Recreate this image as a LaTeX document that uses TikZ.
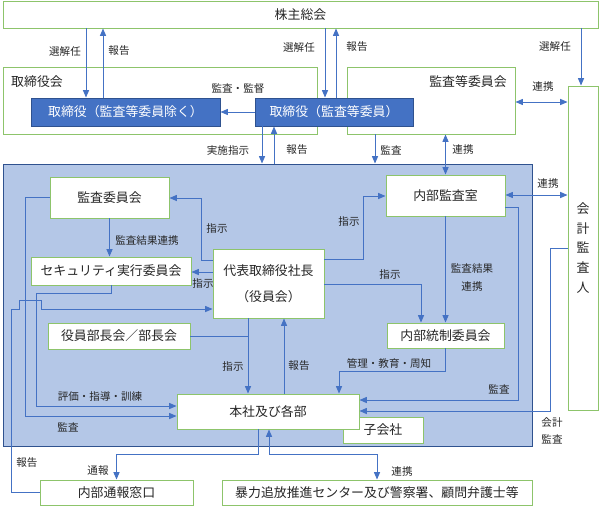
\documentclass[tikz,border=0pt]{standalone}
\usepackage{fontspec}
\setmainfont{Noto Sans CJK JP}
\usepackage{tikz}
\usetikzlibrary{arrows.meta}
\definecolor{lineblue}{HTML}{4472C4}
\definecolor{darkblue}{HTML}{2F528F}
\definecolor{areablue}{HTML}{B4C7E7}
\definecolor{boxgreen}{HTML}{8DC46B}
\definecolor{txt}{HTML}{262626}

\begin{document}
\begin{tikzpicture}[x=0.03cm,y=-0.03cm]

      \tikzstyle{greenbox}=[draw=boxgreen,line width=0.8pt,fill=white,inner sep=0pt,text=txt,font=\fontsize{11pt}{13pt}\selectfont]
      \tikzstyle{bluebox}=[draw=darkblue,line width=0.8pt,fill=lineblue,inner sep=0pt,text=white,font=\fontsize{11pt}{13pt}\selectfont]
      \tikzstyle{lbl}=[inner sep=0pt,text=txt,font=\fontsize{9pt}{11pt}\selectfont]
      \tikzstyle{arr}=[draw=lineblue,line width=0.8pt,-{Triangle[length=2.2mm,width=1.8mm]}]
      \tikzstyle{dbl}=[draw=lineblue,line width=0.8pt,{Triangle[length=2.2mm,width=1.8mm]}-{Triangle[length=2.2mm,width=1.8mm]}]
      \tikzstyle{ln}=[draw=lineblue,line width=0.8pt]

  \useasboundingbox (0,0) rectangle (600,506);

  \node[greenbox, minimum width=17.85cm, minimum height=0.81cm] (kabu) at (300.5,14.5) {株主総会};
  \node[greenbox, minimum width=9.42cm, minimum height=2.01cm] (torikai) at (160,100.5) {};
  \node[greenbox, minimum width=5.04cm, minimum height=2.01cm] (kansatou) at (431,100.5) {};
  \node[greenbox, minimum width=0.9cm, minimum height=9.72cm, align=center, font=\fontsize{11pt}{17pt}\selectfont] (kaikei) at (583,248) {会\\計\\監\\査\\人};
  \node[draw=darkblue, line width=0.8pt, fill=areablue, minimum width=15.87cm, minimum height=8.46cm] (area) at (267.5,305) {};

  \node[greenbox, draw=none, fill=none] (torikailbl) at (37,82) {取締役会};
  \node[greenbox, draw=none, fill=none] (kansatoulbl) at (468,82) {監査等委員会};
  \node[bluebox, minimum width=5.67cm, minimum height=0.84cm] (torishimari1) at (125.5,112) {取締役（監査等委員除く）};
  \node[bluebox, minimum width=4.74cm, minimum height=0.84cm] (torishimari2) at (334,112) {取締役（監査等委員）};

  \node[greenbox, minimum width=3.57cm, minimum height=1.23cm] (naibu) at (445.5,195.5) {内部監査室};
  \node[greenbox, minimum width=3.57cm, minimum height=1.23cm] (kansaiin) at (109.5,197.5) {監査委員会};
  \node[greenbox, minimum width=4.8cm, minimum height=0.84cm] (security) at (111,271) {セキュリティ実行委員会};
  \node[greenbox, minimum width=3.33cm, minimum height=2.07cm, align=center, font=\fontsize{11pt}{22pt}\selectfont] (daihyo) at (268.5,283.5) {代表取締役社長\\（役員会）};
  \node[greenbox, minimum width=3.51cm, minimum height=0.75cm] (tousei) at (445.5,335.5) {内部統制委員会};
  \node[greenbox, minimum width=4.26cm, minimum height=0.78cm] (buchou) at (119,336) {役員部長会／部長会};
  \node[greenbox, minimum width=2.4cm, minimum height=0.78cm] (kogaisha) at (383,430) {子会社};
  \node[greenbox, minimum width=5.46cm, minimum height=1.05cm] (honsha) at (268,411.5) {本社及び各部};
  \node[greenbox, minimum width=4.59cm, minimum height=0.75cm] (tsuhou) at (116.5,492.5) {内部通報窓口};
  \node[greenbox, minimum width=9.3cm, minimum height=0.75cm] (boryoku) at (377,492.5) {暴力追放推進センター及び警察署、顧問弁護士等};

  % top
  \draw[arr] (kabu.south -| 86,0) -- (torishimari1.north -| 86,0);
  \draw[arr] (torishimari1.north -| 103,0) -- (kabu.south -| 103,0);
  \draw[arr] (kabu.south -| 325,0) -- (torishimari2.north -| 325,0);
  \draw[arr] (torishimari2.north -| 336,0) -- (kabu.south -| 336,0);
  \draw[arr] (kabu.south -| 581,0) -- (kaikei.north -| 581,0);
  \draw[arr] (torishimari2.west) -- (torishimari1.east);
  \draw[dbl] (kansatou.east |- 0,102) -- (kaikei.west |- 0,102);
  \draw[arr] (torishimari2.south -| 262,0) -- (area.north -| 262,0);
  \draw[arr] (area.north -| 274,0) -- (torishimari2.south -| 274,0);
  \draw[arr] (kansatou.south -| 375,0) -- (area.north -| 375,0);
  \draw[dbl] (kansatou.south -| naibu.north) -- (naibu.north);
  \draw[dbl] (naibu.east |- 0,195) -- (kaikei.west |- 0,195);

  % inside
  \draw[arr] (kansaiin.south) -- (kansaiin.south |- security.north);
  \draw[arr] (daihyo.west |- 0,260) -| (201,198) -- (kansaiin.east |- 0,198);
  \draw[arr] (daihyo.west |- 0,272) -- (security.east |- 0,272);
  \draw[arr] (daihyo.east |- 0,259) -| (363,196) -- (naibu.west |- 0,196);
  \draw[arr] (daihyo.east |- 0,284) -| (tousei.north -| 421,0);
  \draw[arr] (naibu.south) -- (tousei.north);
  \draw[arr] (naibu.east |- 0,207) -| (518,400) -- (honsha.east |- 0,400);
  \draw[arr] (kaikei.west |- 0,248) -| (550,411) -- (honsha.east |- 0,411);
  \coordinate (join) at (248,336);
  \draw[arr] (daihyo.south -| join) -- (honsha.north -| join);
  \draw[ln] (buchou.east) -- (join);
  \draw[arr] (honsha.north -| 284,0) -- (daihyo.south -| 284,0);
  \draw[arr] (tousei.south) |- (339,371) -- (honsha.north -| 339,0);
  \draw[arr] (kansaiin.west) -| (25,416) -- (honsha.west |- 0,416);
  \draw[arr] (security.south) |- (36,293) |- (honsha.west |- 0,406);
  \draw[arr] (tsuhou.west) -| (11,309) -- (19,309) -- (19,300) -- (41,300) -- (41,309) -- (daihyo.west |- 0,309);

  % bottom
  \draw[arr] (honsha.south -| 258,0) |- (116.5,454) -- (tsuhou.north);
  \draw[dbl] (honsha.south -| 269,0) |- (377,454) -- (boryoku.north);

  \node[lbl] (l1) at (65,51) {選解任};
  \node[lbl] (l2) at (119,51) {報告};
  \node[lbl] (l3) at (299,47) {選解任};
  \node[lbl] (l4) at (357,47) {報告};
  \node[lbl] (l5) at (555,46) {選解任};
  \node[lbl] (l6) at (543,87) {連携};
  \node[lbl] (l7) at (238,88) {監査・監督};
  \node[lbl] (l8) at (228,150) {実施指示};
  \node[lbl] (l9) at (297,150) {報告};
  \node[lbl] (l10) at (391,150) {監査};
  \node[lbl] (l11) at (463,150) {連携};
  \node[lbl] (l12) at (548,184) {連携};
  \node[lbl] (l13) at (147,240) {監査結果連携};
  \node[lbl] (l14) at (217,228) {指示};
  \node[lbl] (l15) at (203,283) {指示};
  \node[lbl] (l16) at (349,221) {指示};
  \node[lbl] (l17) at (390,274) {指示};
  \node[lbl, align=center, font=\fontsize{9pt}{16pt}\selectfont] (l18) at (472,277.5) {監査結果\\連携};
  \node[lbl] (l19) at (233,366) {指示};
  \node[lbl] (l20) at (299,366) {報告};
  \node[lbl] (l21) at (389,363) {管理・教育・周知};
  \node[lbl] (l22) at (499,389) {監査};
  \node[lbl, align=center, font=\fontsize{9pt}{15pt}\selectfont] (l23) at (552,431) {会計\\監査};
  \node[lbl] (l24) at (100,396) {評価・指導・訓練};
  \node[lbl] (l25) at (68,427) {監査};
  \node[lbl] (l26) at (27,463) {報告};
  \node[lbl] (l27) at (98,471) {通報};
  \node[lbl] (l28) at (402,471) {連携};

  %\draw[step=50,gray,very thin] (0,0) grid (600,506);

\end{tikzpicture}
\end{document}
